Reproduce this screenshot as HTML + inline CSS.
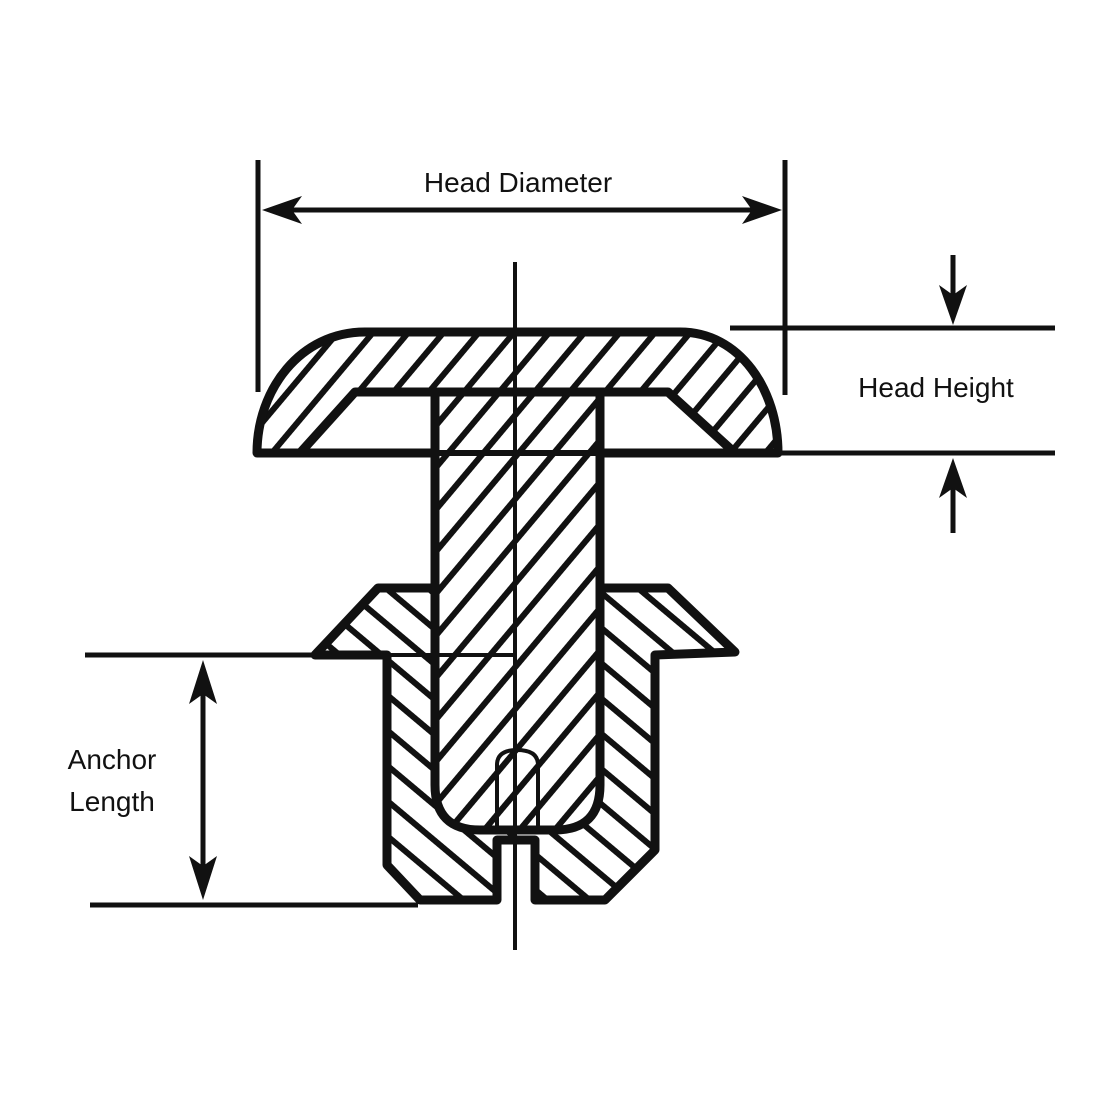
<!DOCTYPE html>
<html><head><meta charset="utf-8"><style>html,body{margin:0;padding:0;background:#fff}svg{display:block}</style></head>
<body>
<svg width="1100" height="1100" viewBox="0 0 1100 1100" xmlns="http://www.w3.org/2000/svg">
<defs>
<pattern id="hf" width="27" height="27" patternUnits="userSpaceOnUse" patternTransform="rotate(40)">
<rect width="27" height="27" fill="#fff"/><line x1="13.5" y1="0" x2="13.5" y2="27" stroke="#111" stroke-width="6"/></pattern>
<pattern id="hb" width="27" height="27" patternUnits="userSpaceOnUse" patternTransform="rotate(-50)">
<rect width="27" height="27" fill="#fff"/><line x1="13.5" y1="0" x2="13.5" y2="27" stroke="#111" stroke-width="6"/></pattern>
</defs>
<g stroke="#111" stroke-linejoin="round" fill="none">
<path d="M378,588 L668,588 L735,652 L655,655 L655,850 L605,900 L535,900 L535,840 L497,840 L497,900 L420,900 L387,865 L387,655 L315,655 Z" fill="url(#hb)" stroke-width="9"/>
<path fill-rule="evenodd" d="M257,453 L778,453 C778,390 740,332 680,332 L365,332 C300,332 257,390 257,453 Z M300,453 L355,392 L668,392 L735,453 Z" fill="url(#hf)" stroke-width="9"/>
<path d="M435,392 L600,392 L600,785 Q600,830 555,830 L480,830 Q435,830 435,785 Z" fill="url(#hf)" stroke-width="9"/>
<path d="M497,830 L497,765 Q497,750 517,750 Q538,750 538,765 L538,830" stroke-width="4"/>
<line x1="387" y1="655" x2="515" y2="655" stroke-width="4"/>
<line x1="300" y1="453" x2="778" y2="453" stroke-width="6"/>
<line x1="515" y1="262" x2="515" y2="950" stroke-width="4"/>
<line x1="258" y1="160" x2="258" y2="392" stroke-width="5"/>
<line x1="785" y1="160" x2="785" y2="395" stroke-width="5"/>
<line x1="270" y1="210" x2="770" y2="210" stroke-width="5"/>
<line x1="730" y1="328" x2="1055" y2="328" stroke-width="5"/>
<line x1="778" y1="453" x2="1055" y2="453" stroke-width="5"/>
<line x1="953" y1="255" x2="953" y2="300" stroke-width="5"/>
<line x1="953" y1="485" x2="953" y2="533" stroke-width="5"/>
<line x1="85" y1="655" x2="320" y2="655" stroke-width="5"/>
<line x1="90" y1="905" x2="418" y2="905" stroke-width="5"/>
<line x1="203" y1="680" x2="203" y2="880" stroke-width="5"/>
</g>
<g fill="#111">
<path d="M262,210 L302,196 L292,210 L302,224 Z"/>
<path d="M782,210 L742,196 L752,210 L742,224 Z"/>
<path d="M953,325 L939,285 L953,295 L967,285 Z"/>
<path d="M953,458 L939,498 L953,488 L967,498 Z"/>
<path d="M203,660 L189,704 L203,694 L217,704 Z"/>
<path d="M203,900 L189,856 L203,866 L217,856 Z"/>
</g>
<g font-family="'Liberation Sans', sans-serif" font-size="28" fill="#111" text-anchor="middle">
<text x="518" y="192">Head Diameter</text>
<text x="936" y="397">Head Height</text>
<text x="112" y="769">Anchor</text>
<text x="112" y="811">Length</text>
</g>
</svg>
</body></html>
